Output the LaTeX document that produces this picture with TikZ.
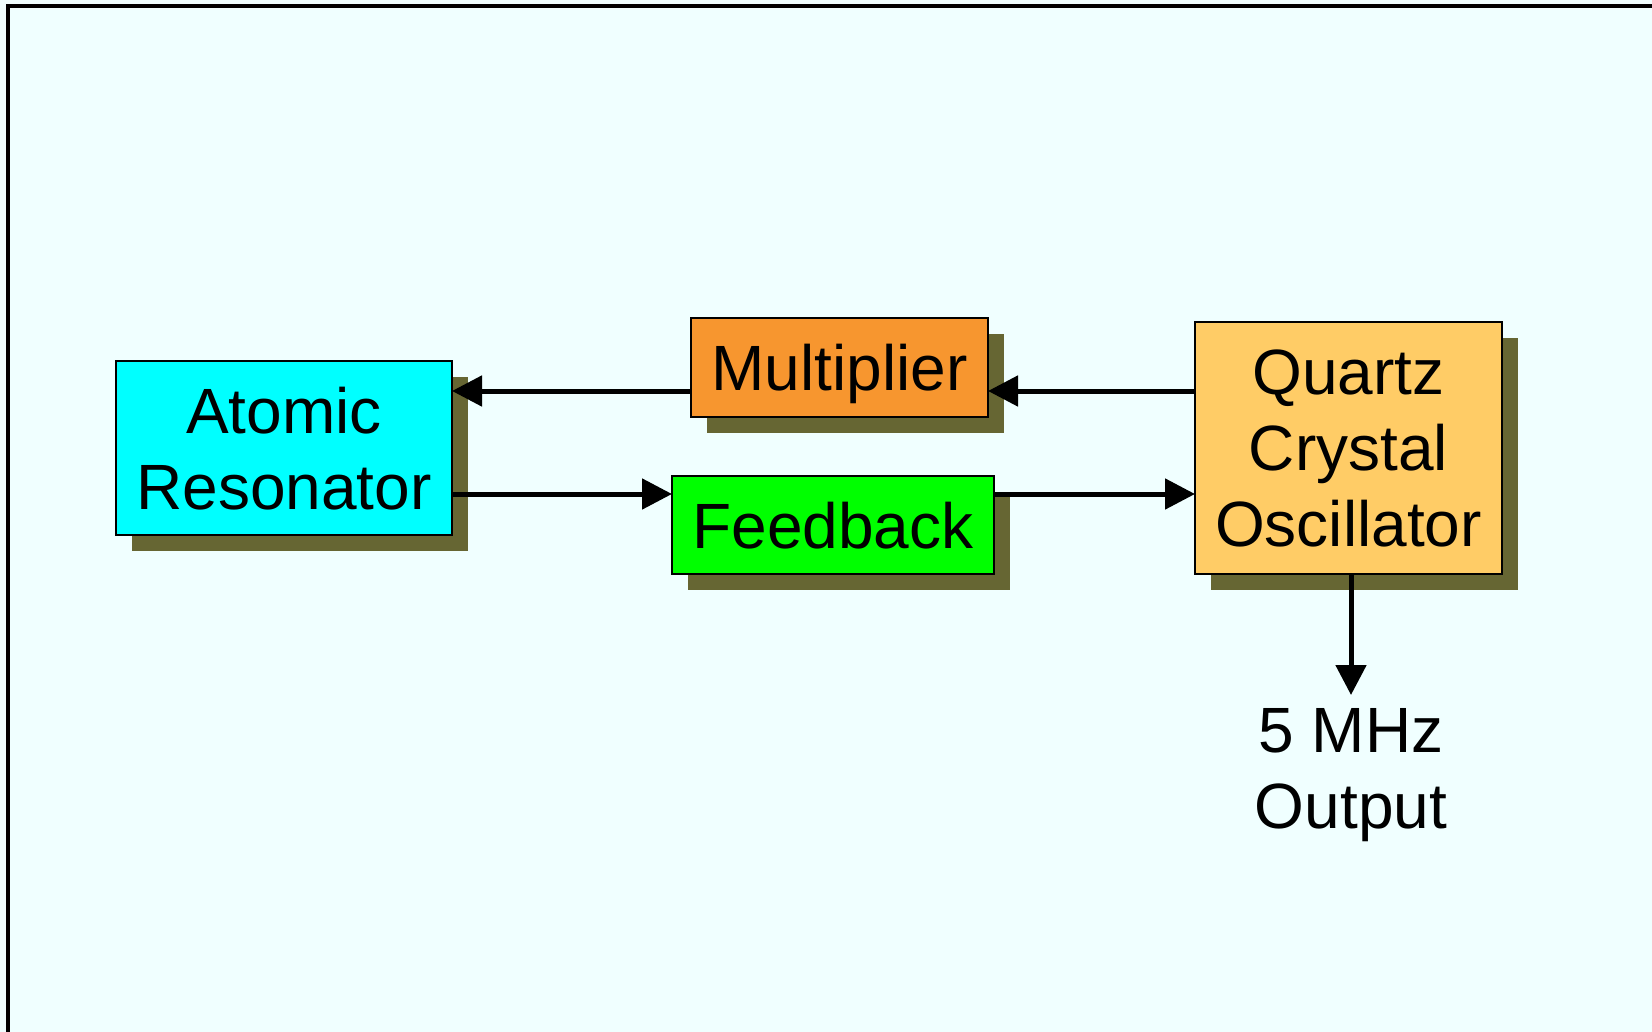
\documentclass[tikz,border=0pt]{standalone}
\usepackage{fontspec}
\setmainfont{Liberation Sans}
\usetikzlibrary{arrows.meta,shadows}
\definecolor{bgc}{HTML}{F0FFFF}
\definecolor{shadowc}{HTML}{666633}
\definecolor{cyanbox}{HTML}{00FFFF}
\definecolor{orangebox}{HTML}{F7962F}
\definecolor{greenbox}{HTML}{00FF00}
\definecolor{quartzbox}{HTML}{FFCC66}
\tikzset{
  blockbox/.style={draw=black, line width=2pt, inner sep=0pt, outer sep=0pt,
    font=\fontsize{64}{76}\selectfont, align=center, text depth=0pt,
    drop shadow={shadow xshift=16pt, shadow yshift=-16pt, fill=shadowc, opacity=1}},
  arr/.style={line width=5pt, -{Triangle[length=30pt,width=30pt]}},
  lbl/.style={font=\fontsize{64}{76}\selectfont, align=center, inner sep=0pt}
}
\begin{document}
\begin{tikzpicture}[x=1pt,y=-1pt]
\useasboundingbox (0,0) rectangle (1652,1032);
\fill[bgc] (0,0) rectangle (1652,1032);
\begin{scope}
\clip (0,0) rectangle (1652,1032);
\draw[line width=3.5pt, black] (8,6) rectangle (1720,1100);
\end{scope}

\node[blockbox, fill=cyanbox, minimum width=336pt, minimum height=174pt] (atomic) at (284,448) {Atomic\\Resonator};
\node[blockbox, fill=orangebox, minimum width=297pt, minimum height=99pt] (mult) at (839.5,367.5) {Multiplier};
\node[blockbox, fill=greenbox, minimum width=322pt, minimum height=98pt] (feed) at (833,525) {Feedback};
\node[blockbox, fill=quartzbox, minimum width=307pt, minimum height=252pt] (quartz) at (1348.5,448) {Quartz\\Crystal\\Oscillator};
\node[lbl, anchor=north] (out) at (1351,708) {5 MHz\\Output};

\coordinate (ya) at (0,391);
\coordinate (yb) at (0,494);

\draw[arr] (quartz.west |- ya) -- (mult.east |- ya);
\draw[arr] (mult.west |- ya) -- (atomic.east |- ya);
\draw[arr] (atomic.east |- yb) -- (feed.west |- yb);
\draw[arr] (feed.east |- yb) -- (quartz.west |- yb);
\draw[arr, shorten >=13pt] (quartz.south -| out.north) -- (out.north);
\end{tikzpicture}
\end{document}
